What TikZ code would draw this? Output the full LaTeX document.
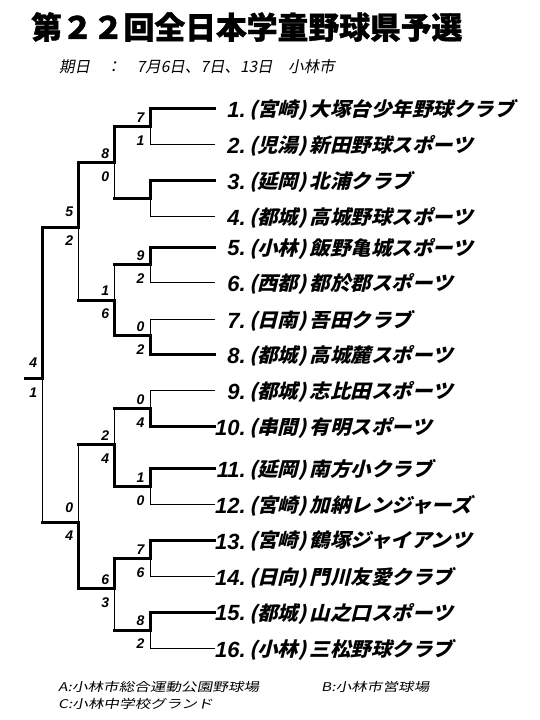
\documentclass[tikz,border=0pt]{standalone}
\usepackage{fontspec}
\usetikzlibrary{calc}
\newfontfamily\titlefont{Noto Sans CJK JP}[BoldFeatures={FakeBold=1.2}]
\newfontfamily\teamfont{Noto Sans CJK JP}[FakeSlant=0.25,FakeStretch=1.05]
\newfontfamily\subfont{Noto Sans CJK JP}[FakeSlant=0.2]
\newfontfamily\notefont{Noto Sans CJK JP}[FakeSlant=0.2,FakeStretch=1.3]
\newfontfamily\numfont{Liberation Sans}
\tikzset{
  win/.style={line width=3pt, line cap=rect},
  lose/.style={line width=1pt},
  score/.style={inner sep=0pt, font=\numfont\bfseries\itshape\fontsize{14}{14}\selectfont},
  teamno/.style={anchor=east, inner sep=0pt, font=\numfont\bfseries\itshape\fontsize{22}{22}\selectfont},
  teamname/.style={anchor=west, inner sep=0pt, font=\teamfont\bfseries\fontsize{19.5}{20}\selectfont},
  note/.style={anchor=west, inner sep=0pt, font=\notefont\fontsize{12}{12}\selectfont}
}
\begin{document}
\begin{tikzpicture}[x=1pt, y=-1pt]
    \path[use as bounding box, fill=white] (0,0) rectangle (540,720);
    % title and dates
    \node[anchor=west, inner sep=0pt, font=\titlefont\bfseries\fontsize{30.8}{31}\selectfont] (title) at (31,27) {第２２回全日本学童野球県予選};
    \node[anchor=west, inner sep=0pt, font=\subfont\fontsize{15.5}{16}\selectfont] (dates) at (59,67) {期日　：　7月6日、7日、13日　小林市};
    % teams
    \foreach \y/\rg/\nm [count=\i] in {108/宮崎/大塚台少年野球クラブ, 144/児湯/新田野球スポーツ,
        180.5/延岡/北浦クラブ, 216/都城/高城野球スポーツ, 247/小林/飯野亀城スポーツ,
        282.5/西都/都於郡スポーツ, 319/日南/吾田クラブ, 354/都城/高城麓スポーツ,
        390/都城/志比田スポーツ, 426/串間/有明スポーツ, 468/延岡/南方小クラブ,
        504/宮崎/加納レンジャーズ, 540/宮崎/鶴塚ジャイアンツ, 576/日向/門川友愛クラブ,
        612/都城/山之口スポーツ, 648/小林/三松野球クラブ} {
      \coordinate (s\i) at (150,\y);
      \coordinate (e\i) at (214.5,\y);
      \node[teamno] (n\i) at (246,\y+1.5) {\i.};
      \node[teamname] (t\i) at (249,\y+1.5) {(\rg)\,\nm};
    }
    \foreach \i in {1,3,5,8,10,11,13,15} \draw[win] (e\i) -- (s\i);
    \foreach \i in {2,4,6,7,9,12,14,16} \draw[lose] (e\i) -- (s\i);
    % junctions
    \foreach \y [count=\k] in {126.3,198.3,264.3,335.7,408.3,486.7,558.3,630} {
      \coordinate (ja\k) at (150,\y);
      \coordinate (oa\k) at (114.7,\y);
    }
    \foreach \y [count=\k] in {162.3,300,444.3,588.3} {
      \coordinate (jb\k) at (114.7,\y);
      \coordinate (ob\k) at (78.7,\y);
    }
    \foreach \y [count=\k] in {227.7,522.7} {
      \coordinate (jc\k) at (78.7,\y);
      \coordinate (oc\k) at (42.7,\y);
    }
    \coordinate (jf) at (42.7,378);
    \coordinate (of) at (25.5,378);
    % winner / loser / junction / out
    \foreach \w/\l/\j/\o in {s1/s2/ja1/oa1, s3/s4/ja2/oa2, s5/s6/ja3/oa3, s8/s7/ja4/oa4,
        s10/s9/ja5/oa5, s11/s12/ja6/oa6, s13/s14/ja7/oa7, s15/s16/ja8/oa8,
        oa1/oa2/jb1/ob1, oa4/oa3/jb2/ob2, oa6/oa5/jb3/ob3, oa7/oa8/jb4/ob4,
        ob1/ob2/jc1/oc1, ob4/ob3/jc2/oc2, oc1/oc2/jf/of} {
      \draw[lose] (\l) -- (\j);
      \draw[win] (\w) -- (\j) -- (\o);
    }
    % scores
    \foreach \j/\a/\b/\u/\d in {ja1/7/1/-9/14, ja3/9/2/-9/14, ja4/0/2/-9/14, ja5/0/4/-9/14,
        ja6/1/0/-9/14, ja7/7/6/-9/14, ja8/8/2/-9/14, jb1/8/0/-9/14, jb2/1/6/-9/14,
        jb3/2/4/-9/14, jb4/6/3/-9/14, jc1/5/2/-15.5/13, jc2/0/4/-15.5/13, jf/4/1/-15/15} {
      \node[score] (\j-top) at ($(\j)+(-9.5,\u)$) {\a};
      \node[score] (\j-bot) at ($(\j)+(-9.5,\d)$) {\b};
    }
    % grounds
    \node[note] (gA) at (58,687) {A:小林市総合運動公園野球場};
    \node[note] (gB) at (321,687) {B:小林市営球場};
    \node[note] (gC) at (58,703.5) {C:小林中学校グランド};
\end{tikzpicture}
\end{document}
